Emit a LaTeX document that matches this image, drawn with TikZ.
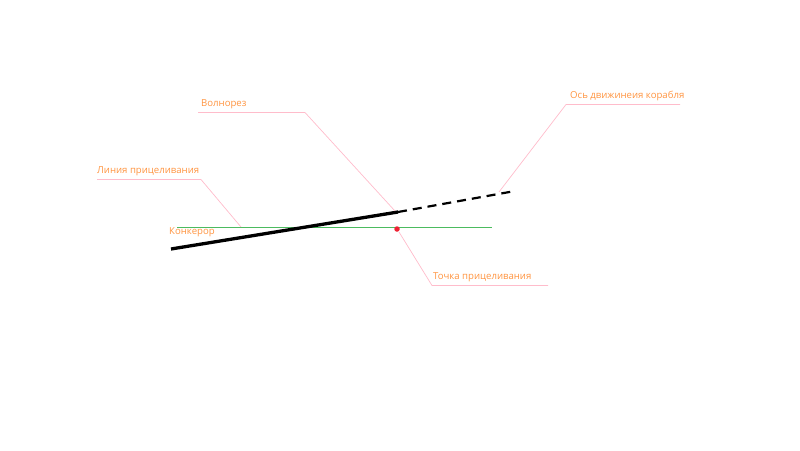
\documentclass[tikz,border=0pt]{standalone}
\usepackage{fontspec}
\setmainfont{Open Sans}
\definecolor{lbl}{HTML}{FF9440}
\definecolor{lead}{HTML}{FFBCCB}
\definecolor{aim}{HTML}{4CBB5F}
\definecolor{dotc}{HTML}{EE2233}
\tikzset{
  lbltext/.style={text=lbl, font=\fontsize{9.6}{11}\selectfont, anchor=base west, inner sep=0pt},
  leader/.style={draw=lead, line width=0.7pt},
}
\begin{document}
\begin{tikzpicture}[x=1pt,y=-1pt]
\useasboundingbox (0,0) rectangle (800,450);
% coordinates
\coordinate (gA) at (177,227.5);
\coordinate (gB) at (492,227.5);
\coordinate (bA) at (171,249);
\coordinate (bB) at (398,212);
\coordinate (dB) at (515,191);
\coordinate (wTip) at (395,211);
\coordinate (lTip) at (241,227);
\coordinate (oTip) at (499,192);
\coordinate (tTip) at (399,232);
\coordinate (wK) at (305,112.5);
\coordinate (wS) at (198,112.5);
\coordinate (lK) at (201,179.5);
\coordinate (lS) at (97,179.5);
\coordinate (oK) at (566,104.5);
\coordinate (oE) at (680,104.5);
\coordinate (tK) at (432,285.5);
\coordinate (tE) at (548,285.5);
% aim line
\draw[draw=aim, line width=1pt] (gA) -- (gB);
% ship
\draw[line width=3.3pt] (bA) -- (bB);
\draw[line width=2.2pt, dash pattern=on 9pt off 6pt] (bB) -- (dB);
% aim point
\node[circle, fill=dotc, inner sep=0pt, minimum size=5.5pt] (dot) at (397,229) {};
% leaders
\draw[leader] (wS) -- (wK) -- (wTip);
\draw[leader] (lS) -- (lK) -- (lTip);
\draw[leader] (oE) -- (oK) -- (oTip);
\draw[leader] (tE) -- (tK) -- (tTip);
% labels
\node[lbltext] (wl) at (201,106) {Волнорез};
\node[lbltext] (ll) at (97,173) {Линия прицеливания};
\node[lbltext] (ol) at (570,98) {Ось движинеия корабля};
\node[lbltext] (tl) at (433,279) {Точка прицеливания};
\node[lbltext] (kl) at (169,234) {Конкерор};
\end{tikzpicture}
\end{document}
